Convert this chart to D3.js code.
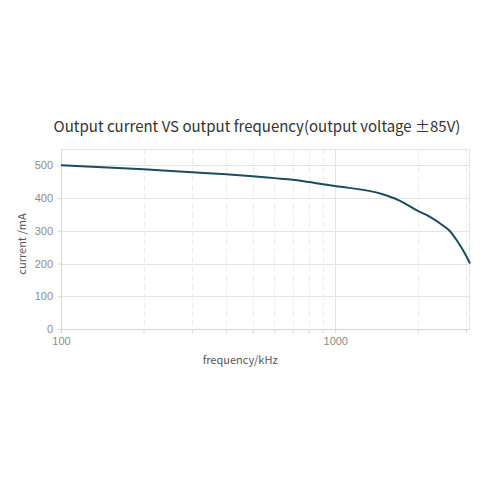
<!DOCTYPE html>
<html>
<head>
<meta charset="utf-8">
<script src="https://cdn.jsdelivr.net/npm/d3@7"></script>
<style>
  html, body { margin: 0; padding: 0; background: #fff; }
  svg { display: block; font-family: "Noto Sans CJK SC", "Noto Sans", sans-serif; }
  .grid line { stroke: #e3e3e3; stroke-width: 1; }
  .grid .minor { stroke: #ececec; stroke-dasharray: 6 3; }
  .axis path, .axis line { stroke: #d6d6d6; }
  .axis text { fill: #8c8c8c; font-size: 11px; }
</style>
</head>
<body>
<svg id="chart" width="488" height="488"></svg>
<script>
(function () {
  'use strict';

  // Values.
  const FREQ_KHZ = [100, 200, 300, 400, 500, 600, 700, 800, 1000, 1500, 1700, 2000, 2200, 2500, 2600, 2800, 3000, 3100];
  const CURRENT_MA = [500, 488, 479, 473, 467, 461, 456, 449, 437, 411, 394, 361, 344, 313, 302, 266, 224, 200];
  const X_TICKS = [100, 200, 300, 400, 500, 600, 700, 800, 900, 1000, 2000, 3000];
  const X_LABELS = [100, 1000];
  const Y_TICKS = [0, 100, 200, 300, 400, 500];

  const TITLE = 'Output current VS output frequency(output voltage \u00b185V)';
  const X_TITLE = 'frequency/kHz';
  const Y_TITLE = 'current /mA';

  const W = 488, H = 488;
  const margin = { top: 149, right: 18, bottom: 159, left: 61 };
  const innerW = W - margin.left - margin.right;
  const innerH = H - margin.top - margin.bottom;

  const svg = d3.select('#chart');

  const x = d3.scaleLog().domain([100, 3100]).range([0, innerW]);
  const y = d3.scaleLinear().domain([0, 550]).range([innerH, 0]);

  svg.append('text')
    .attr('x', 257).attr('y', 132)
    .attr('text-anchor', 'middle')
    .attr('fill', '#333')
    .style('font-size', '15px')
    .text(TITLE);

  const g = svg.append('g').attr('transform', `translate(${margin.left},${margin.top})`);

  // Grid
  const grid = g.append('g').attr('class', 'grid');
  grid.selectAll('line.h')
    .data(Y_TICKS.concat([550]))
    .enter().append('line')
    .attr('class', 'h')
    .attr('x1', 0).attr('x2', innerW)
    .attr('y1', d => Math.round(y(d)) + 0.5).attr('y2', d => Math.round(y(d)) + 0.5);
  grid.selectAll('line.v')
    .data(X_TICKS)
    .enter().append('line')
    .attr('class', d => 'v' + (X_LABELS.includes(d) ? '' : ' minor'))
    .attr('y1', 0).attr('y2', innerH)
    .attr('x1', d => Math.round(x(d)) + 0.5).attr('x2', d => Math.round(x(d)) + 0.5);
  grid.append('line')
    .attr('x1', innerW - 0.5).attr('x2', innerW - 0.5)
    .attr('y1', 0).attr('y2', innerH);

  // Axes
  const xAxis = d3.axisBottom(x)
    .tickValues(X_TICKS)
    .tickSize(4)
    .tickPadding(4)
    .tickFormat(d => X_LABELS.includes(d) ? String(d) : '');
  g.append('g').attr('class', 'axis x')
    .attr('transform', `translate(0,${innerH})`)
    .call(xAxis)
    .call(a => a.select('.domain').attr('d', `M0.5,0.5H${innerW}`));

  const yAxis = d3.axisLeft(y)
    .tickValues(Y_TICKS)
    .tickSize(3)
    .tickPadding(5);
  g.append('g').attr('class', 'axis y')
    .call(yAxis)
    .call(a => a.select('.domain').attr('d', `M0.5,0V${innerH}`));

  // Axis titles
  svg.append('text')
    .attr('x', margin.left + x(450)).attr('y', 364)
    .attr('text-anchor', 'middle')
    .attr('fill', '#555')
    .style('font-size', '11px')
    .text(X_TITLE);

  svg.append('text')
    .attr('transform', 'translate(26,244) rotate(-90)')
    .attr('text-anchor', 'middle')
    .attr('fill', '#555')
    .style('font-size', '11px')
    .text(Y_TITLE);

  // Curve
  const points = FREQ_KHZ.map((f, i) => [f, CURRENT_MA[i]]);
  const line = d3.line()
    .x(d => x(d[0]))
    .y(d => y(d[1]))
    .curve(d3.curveMonotoneX);
  g.append('path')
    .datum(points)
    .attr('fill', 'none')
    .attr('stroke', '#1b4b60')
    .attr('stroke-width', 2)
    .attr('d', line);
})();
</script>
</body>
</html>
